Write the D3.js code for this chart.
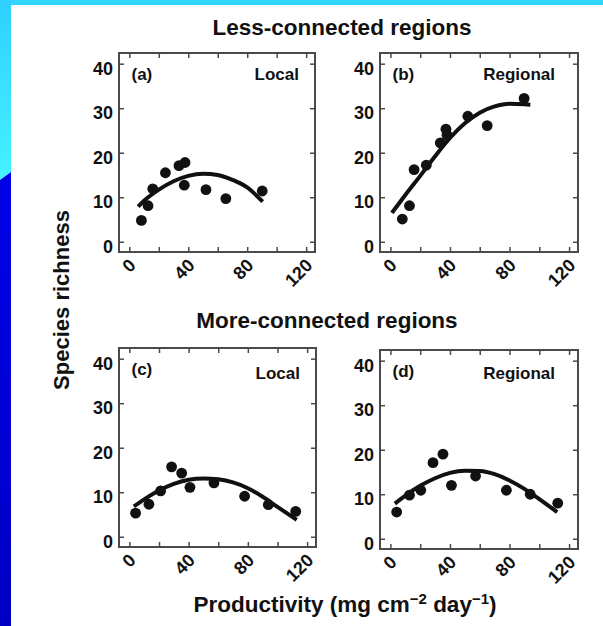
<!DOCTYPE html>
<html>
<head>
<meta charset="utf-8">
<script src="https://cdn.jsdelivr.net/npm/d3@7"></script>
<style>
  body { margin: 0; background: #fff; }
  svg { display: block; font-family: "Liberation Sans", Arial, Helvetica, sans-serif; }
</style>
</head>
<body>
<div id="chart"></div>
<script>
// tick values
const xTickValues = [0, 20, 40, 60, 80, 100, 120];
const xTickLabels = [0, 40, 80, 120];
const yTickValues = [0, 10, 20, 30, 40];

// (a) less-connected, local
const aX = [8.2, 12.7, 15.9, 24.5, 33.7, 37.8, 37.3, 52, 65.5, 90.2];
const aY = [4.8, 8.1, 11.9, 15.5, 17.1, 17.8, 12.7, 11.7, 9.7, 11.4];
const aFitX = [6, 10, 20, 30, 40, 50, 60, 70, 80, 90.5];
const aFitY = [7.9, 9.2, 11.7, 13.6, 14.8, 15.3, 15.0, 13.9, 12.2, 9.0];

// (b) less-connected, regional
const bX = [8.0, 12.8, 15.9, 24.1, 33.5, 37.3, 38.0, 52, 65, 89.8];
const bY = [5.1, 8.1, 16.2, 17.2, 22.2, 25.3, 24.0, 28.2, 26.1, 32.2];
const bFitX = [1, 10, 20, 30, 40, 50, 60, 70, 80, 90, 94];
const bFitY = [6.5, 10.5, 14.8, 19.2, 23.3, 26.6, 29.0, 30.4, 31.0, 30.9, 30.8];

// (c) more-connected, local
const cX = [4.2, 13.2, 21.1, 28.5, 35.3, 40.9, 57.1, 77.8, 93.8, 112.3];
const cY = [5.3, 7.3, 10.3, 15.7, 14.3, 11.1, 12.1, 9.1, 7.2, 5.7];
const cFitX = [3, 10, 20, 30, 40, 50, 60, 70, 80, 90, 100, 113];
const cFitY = [6.8, 8.4, 10.4, 11.9, 12.8, 13.1, 12.9, 12.2, 10.9, 9.0, 6.7, 3.8];

// (d) more-connected, regional
const dX = [4.2, 12.8, 20.4, 28.6, 35.3, 41, 57.2, 77.9, 93.9, 112.4];
const dY = [6.0, 9.8, 10.9, 17.1, 19.0, 12.0, 14.1, 10.9, 10.0, 8.0];
const dFitX = [3, 10, 20, 30, 40, 50, 60, 70, 80, 90, 100, 112];
const dFitY = [7.9, 9.7, 11.9, 13.6, 14.8, 15.3, 15.2, 14.5, 13.1, 11.2, 8.9, 6.0];

const letters = ["(a)", "(b)", "(c)", "(d)"];
const names = ["Local", "Regional", "Local", "Regional"];
const titles = ["Less-connected regions", "More-connected regions"];

const W = 603, H = 626;
const svg = d3.select("#chart").append("svg").attr("width", W).attr("height", H);

// background: cyan / blue slide edge
const defs = svg.append("defs");
const gc = defs.append("linearGradient").attr("id", "cyan").attr("x1", 0).attr("y1", 0).attr("x2", 0).attr("y2", 1);
gc.append("stop").attr("offset", "0%").attr("stop-color", "#2fd0ff");
gc.append("stop").attr("offset", "100%").attr("stop-color", "#45f2ff");
const gb = defs.append("linearGradient").attr("id", "blue").attr("x1", 0).attr("y1", 0).attr("x2", 0).attr("y2", 1);
gb.append("stop").attr("offset", "0%").attr("stop-color", "#0000e8");
gb.append("stop").attr("offset", "100%").attr("stop-color", "#0000c4");

svg.append("rect").attr("width", W).attr("height", H).attr("fill", "#fff");
svg.append("rect").attr("width", W).attr("height", 5).attr("fill", "#33d6ff");
svg.append("polygon").attr("points", "0,0 11,0 11,172 0,180").attr("fill", "url(#cyan)");
svg.append("polygon").attr("points", "0,180 11,172 11,626 0,626").attr("fill", "url(#blue)");

// panel boxes
const panels = [
  {x: 119, y: 53, w: 196, h: 199, px: aX, py: aY, fx: aFitX, fy: aFitY, nameDy: 27, nameRight: 16},
  {x: 380, y: 53, w: 198, h: 199, px: bX, py: bY, fx: bFitX, fy: bFitY, nameDy: 27, nameRight: 23},
  {x: 119, y: 348, w: 197, h: 199, px: cX, py: cY, fx: cFitX, fy: cFitY, nameDy: 31, nameRight: 16},
  {x: 380, y: 350, w: 198, h: 199, px: dX, py: dY, fx: dFitX, fy: dFitY, nameDy: 29, nameRight: 23}
];

const ink = "#111";
const frameCol = "#4a4a4a";

panels.forEach(function(p, i) {
  const g = svg.append("g").attr("transform", "translate(" + p.x + "," + p.y + ")");
  const x = d3.scaleLinear().domain([-7, 126]).range([0, p.w]);
  const y = d3.scaleLinear().domain([-2.3, 42.4]).range([p.h, 0]);

  // bottom axis with rotated labels
  const xb = g.append("g").attr("transform", "translate(0," + p.h + ")")
    .call(d3.axisBottom(x).tickValues(xTickValues).tickSize(-5).tickSizeOuter(0)
      .tickFormat(d => xTickLabels.includes(d) ? d : ""));
  xb.selectAll("text")
    .attr("x", 0).attr("y", 0).attr("dy", "0.35em")
    .attr("transform", "translate(2.5,10) rotate(-45)")
    .attr("text-anchor", "end")
    .style("font-size", "18px").style("font-weight", "bold").attr("fill", ink);

  // top axis ticks only
  g.append("g").call(d3.axisTop(x).tickValues(xTickValues).tickSize(-5).tickSizeOuter(0).tickFormat(""));

  // left axis
  const yl = g.append("g")
    .call(d3.axisLeft(y).tickValues(yTickValues).tickSize(-5).tickSizeOuter(0).tickPadding(6));
  yl.selectAll("text")
    .attr("dy", "0.58em")
    .style("font-size", "18px").style("font-weight", "bold").attr("fill", ink);

  // right axis ticks
  g.append("g").attr("transform", "translate(" + p.w + ",0)")
    .call(d3.axisRight(y).tickValues(yTickValues).tickSize(-5).tickSizeOuter(0).tickFormat(""));

  g.selectAll(".domain").remove();
  g.selectAll(".tick line").attr("stroke", frameCol).attr("stroke-width", 1.5);

  // frame
  g.append("rect").attr("width", p.w).attr("height", p.h)
    .attr("fill", "none").attr("stroke", frameCol).attr("stroke-width", 2);

  // fitted curve
  const fit = p.fx.map((v, k) => [v, p.fy[k]]);
  g.append("path")
    .attr("d", d3.line().x(d => x(d[0])).y(d => y(d[1])).curve(d3.curveMonotoneX)(fit))
    .attr("fill", "none").attr("stroke", ink).attr("stroke-width", 4);

  // points
  g.selectAll("circle.pt").data(p.px.map((v, k) => [v, p.py[k]]))
    .enter().append("circle")
    .attr("class", "pt")
    .attr("cx", d => x(d[0])).attr("cy", d => y(d[1]))
    .attr("r", 5.4).attr("fill", ink);

  // panel letter and name
  g.append("text").attr("x", 12.5).attr("y", 27)
    .style("font-size", "17px").style("font-weight", "bold").attr("fill", ink)
    .text(letters[i]);
  g.append("text").attr("x", p.w - p.nameRight).attr("y", p.nameDy)
    .attr("text-anchor", "end")
    .style("font-size", "17px").style("font-weight", "bold").attr("fill", ink)
    .text(names[i]);
});

// row titles
svg.append("text").attr("x", 342).attr("y", 35).attr("text-anchor", "middle")
  .style("font-size", "22.5px").style("font-weight", "bold").attr("fill", ink).text(titles[0]);
svg.append("text").attr("x", 327).attr("y", 328).attr("text-anchor", "middle")
  .style("font-size", "22.5px").style("font-weight", "bold").attr("fill", ink).text(titles[1]);

// y axis title
svg.append("text").attr("transform", "translate(69,300) rotate(-90)").attr("text-anchor", "middle")
  .style("font-size", "22px").style("font-weight", "bold").attr("fill", ink).text("Species richness");

// x axis title with superscripts
const xt = svg.append("text").attr("x", 345).attr("y", 612).attr("text-anchor", "middle")
  .style("font-size", "22.5px").style("font-weight", "bold").attr("fill", ink);
xt.append("tspan").text("Productivity (mg cm");
xt.append("tspan").attr("dy", -8).style("font-size", "15px").text("\u22122");
xt.append("tspan").attr("dy", 8).text(" day");
xt.append("tspan").attr("dy", -8).style("font-size", "15px").text("\u22121");
xt.append("tspan").attr("dy", 8).text(")");
</script>
</body>
</html>
